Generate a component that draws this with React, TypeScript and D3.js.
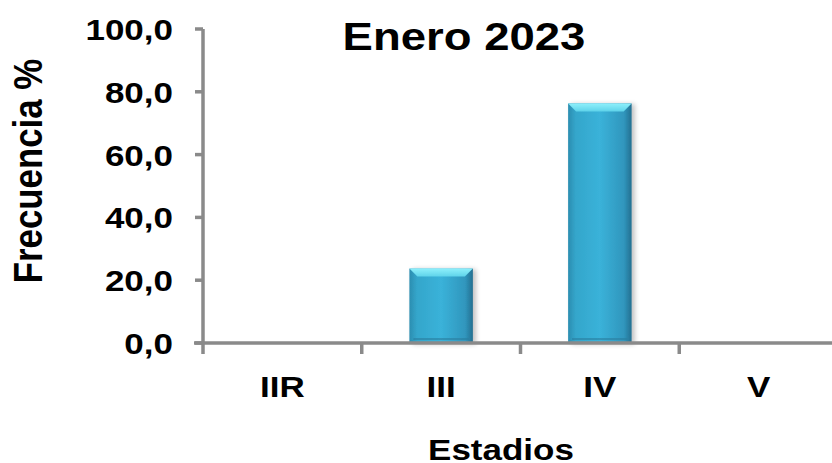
import React from "react";
import * as d3 from "d3";

const categories: string[] = ["IIR", "III", "IV", "V"];
const values: (number | null)[] = [null, 23.7, 76.3, null];
const yTicks: number[] = [0, 20, 40, 60, 80, 100];
const title = "Enero 2023";
const xTitle = "Estadios";
const yTitle = "Frecuencia %";

const W = 832;
const H = 463;
const FONT = "'Liberation Sans', Arial, Helvetica, sans-serif";
const SQ = 0.85; // vertical squash of text

export default function App() {
  const x = d3
    .scaleBand<string>()
    .domain(categories)
    .range([203, 838])
    .paddingInner(0.6)
    .paddingOuter(0.3);
  const y = d3.scaleLinear().domain([0, 100]).range([343, 29]);
  const fmt = (v: number) => d3.format(".1f")(v).replace(".", ",");
  const axisColor = "#8a8a8a";
  const x0 = x.range()[0];
  const step = x.step();
  const boundaries = d3.range(categories.length + 1).map((i) => x0 + i * step);

  return (
    <svg
      width={W}
      height={H}
      style={{ position: "absolute", left: 0, top: 0, background: "#fff" }}
      fontFamily={FONT}
      fontWeight="bold"
    >
      <defs>
        <linearGradient id="barGrad" x1="0" x2="1" y1="0" y2="0">
          <stop offset="0" stopColor="#2b8db0" />
          <stop offset="0.12" stopColor="#34a6cb" />
          <stop offset="0.5" stopColor="#3ab2d9" />
          <stop offset="0.88" stopColor="#3096bd" />
          <stop offset="1" stopColor="#246f90" />
        </linearGradient>
        <linearGradient id="topGrad" x1="0" x2="0" y1="0" y2="1">
          <stop offset="0" stopColor="#8ef0fb" />
          <stop offset="1" stopColor="#5fd3ea" />
        </linearGradient>
        <filter id="shadow" x="-20%" y="-10%" width="140%" height="120%">
          <feGaussianBlur in="SourceAlpha" stdDeviation="2.5" />
          <feOffset dx="3" dy="1" result="b" />
          <feComponentTransfer>
            <feFuncA type="linear" slope="0.25" />
          </feComponentTransfer>
          <feMerge>
            <feMergeNode />
            <feMergeNode in="SourceGraphic" />
          </feMerge>
        </filter>
      </defs>

      {/* Bars */}
      {categories.map((c, i) => {
        const v = values[i];
        if (v == null) return null;
        const bx = x(c)!;
        const bw = x.bandwidth();
        const top = y(v);
        const bottom = y(0);
        const bev = 8;
        return (
          <g key={c} filter="url(#shadow)">
            <rect x={bx} y={top} width={bw} height={bottom - top} fill="url(#barGrad)" />
            <path
              d={`M${bx},${top} L${bx + bw},${top} L${bx + bw - bev},${top + bev} L${bx + bev},${top + bev} Z`}
              fill="url(#topGrad)"
            />
            <rect x={bx + 4} y={bottom - 5} width={bw - 8} height={2} fill="#2a7d9e" opacity={0.6} />
          </g>
        );
      })}

      {/* Y axis */}
      <line x1={x0} x2={x0} y1={y(100)} y2={y(0)} stroke={axisColor} strokeWidth={3.5} />
      {yTicks.map((t) => (
        <g key={t}>
          <line x1={x0 - 8} x2={x0} y1={y(t)} y2={y(t)} stroke={axisColor} strokeWidth={3.5} />
          <text
            transform={`translate(173,${y(t) + 11}) scale(1,${SQ})`}
            textAnchor="end"
            fontSize={35}
            fill="#000"
          >
            {fmt(t)}
          </text>
        </g>
      ))}

      {/* X axis */}
      <line x1={x0 - 9} x2={W} y1={y(0)} y2={y(0)} stroke={axisColor} strokeWidth={3.5} />
      {boundaries.map((bx, i) => (
        <line key={i} x1={bx} x2={bx} y1={y(0)} y2={y(0) + 11} stroke={axisColor} strokeWidth={3.5} />
      ))}
      {categories.map((c) => (
        <text
          key={c}
          transform={`translate(${x(c)! + x.bandwidth() / 2},397) scale(1,${SQ})`}
          textAnchor="middle"
          fontSize={35}
          fill="#000"
        >
          {c}
        </text>
      ))}

      {/* Titles */}
      <text transform={`translate(464,50) scale(1,${SQ})`} textAnchor="middle" fontSize={45.5} fill="#000">
        {title}
      </text>
      <text transform={`translate(501,460) scale(1,${SQ})`} textAnchor="middle" fontSize={35} fill="#000">
        {xTitle}
      </text>
      <text
        transform={`translate(42,171) scale(1,${SQ}) rotate(-90)`}
        textAnchor="middle"
        fontSize={41}
        fill="#000"
      >
        {yTitle}
      </text>
    </svg>
  );
}
